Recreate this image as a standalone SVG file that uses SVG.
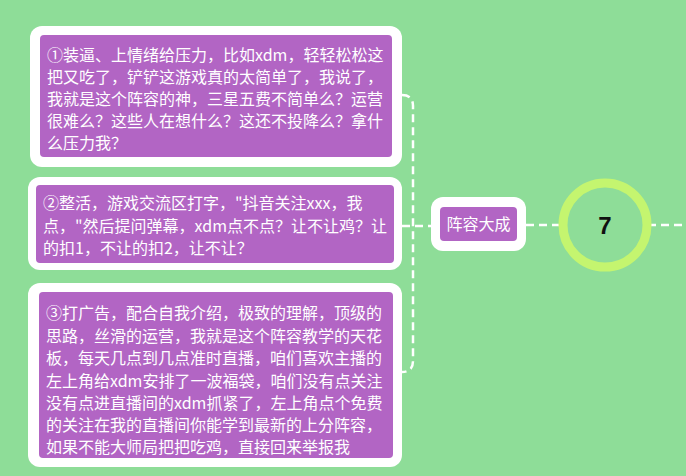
<svg xmlns="http://www.w3.org/2000/svg" width="686" height="476" viewBox="0 0 686 476">
<style>
.outer{fill:#fff}
.inner{fill:#b265c4}
.t{font-family:"Noto Sans CJK SC","Liberation Sans",sans-serif;font-size:16px;fill:#fff}
.c{fill:none;stroke:#fff;stroke-width:2.5;stroke-dasharray:8 5}
</style>
<rect width="686" height="476" fill="#8edd98"/>
<g id="connectors">
<path class="c" d="M402 95 Q413 95 413 106 V361 Q413 372 402 372"/>
<path class="c" d="M402 226 H432"/>
<path class="c" d="M526 225 H562"/>
<path class="c" d="M648 225 H686"/>
</g>
<g id="n1">
<rect class="outer" x="30" y="26" width="372" height="141" rx="12"/>
<rect class="inner" x="40" y="35" width="352" height="122" rx="4"/>
<text class="t" x="47" y="61">①装逼、上情绪给压力，比如xdm，轻轻松松这</text>
<text class="t" x="47" y="83">把又吃了，铲铲这游戏真的太简单了，我说了，</text>
<text class="t" x="47" y="105">我就是这个阵容的神，三星五费不简单么？运营</text>
<text class="t" x="47" y="127">很难么？这些人在想什么？这还不投降么？拿什</text>
<text class="t" x="47" y="149">么压力我？</text>
</g>
<g id="n2">
<rect class="outer" x="28" y="177" width="374" height="93" rx="12"/>
<rect class="inner" x="36" y="185" width="358" height="78" rx="4"/>
<text class="t" x="43" y="209">②整活，游戏交流区打字，"抖音关注xxx，我</text>
<text class="t" x="43" y="232">点，"然后提问弹幕，xdm点不点？让不让鸡？让</text>
<text class="t" x="43" y="254">的扣1，不让的扣2，让不让？</text>
</g>
<g id="n3">
<rect class="outer" x="28" y="283" width="374" height="184" rx="12"/>
<rect class="inner" x="39" y="292" width="354" height="166" rx="4"/>
<text class="t" x="46" y="319">③打广告，配合自我介绍，极致的理解，顶级的</text>
<text class="t" x="46" y="342">思路，丝滑的运营，我就是这个阵容教学的天花</text>
<text class="t" x="46" y="364">板，每天几点到几点准时直播，咱们喜欢主播的</text>
<text class="t" x="46" y="387">左上角给xdm安排了一波福袋，咱们没有点关注</text>
<text class="t" x="46" y="409">没有点进直播间的xdm抓紧了，左上角点个免费</text>
<text class="t" x="46" y="431">的关注在我的直播间你能学到最新的上分阵容，</text>
<text class="t" x="46" y="453">如果不能大师局把把吃鸡，直接回来举报我</text>
</g>
<g id="n4">
<rect class="outer" x="431" y="197" width="95" height="54" rx="12"/>
<rect class="inner" x="440" y="207" width="77" height="34" rx="4"/>
<text class="t" x="478.5" y="230" text-anchor="middle">阵容大成</text>
</g>
<g id="n5">
<circle cx="605" cy="225" r="42" fill="none" stroke="#c4f56f" stroke-width="9"/>
<text x="605" y="234" text-anchor="middle" font-family="Liberation Sans,sans-serif" font-weight="bold" font-size="24" fill="#111">7</text>
</g>
</svg>
